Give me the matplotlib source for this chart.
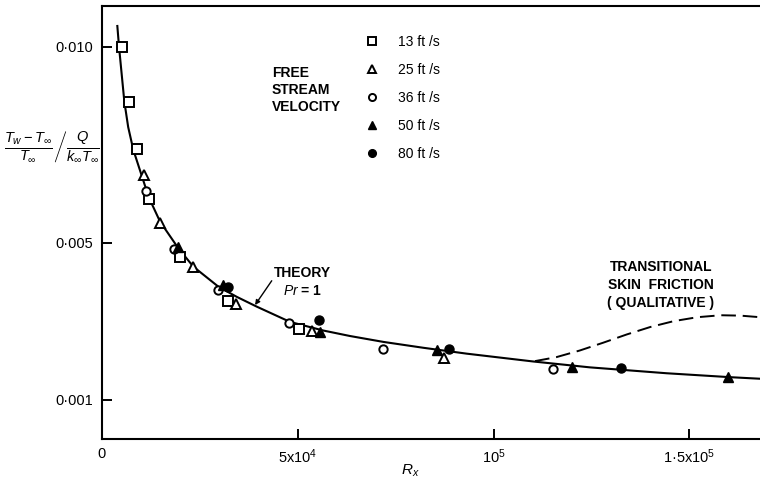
import numpy as np
import matplotlib.pyplot as plt

plt.rcParams['font.family'] = ['Liberation Sans', 'DejaVu Sans']
plt.rcParams['mathtext.fontset'] = 'custom'
plt.rcParams['mathtext.rm'] = 'Liberation Sans'
plt.rcParams['mathtext.it'] = 'Liberation Sans:italic'
plt.rcParams['mathtext.bf'] = 'Liberation Sans:bold'

# measured points, R_x and wall temperature parameter
x13 = [5150, 7020, 8980, 12190, 20030, 32350, 50460]
y13 = [0.01000, 0.00859, 0.00739, 0.00611, 0.00464, 0.00352, 0.00280]

x25 = [10920, 14920, 23270, 34240, 53620, 87370]
y25 = [0.00673, 0.00551, 0.00437, 0.00344, 0.00275, 0.00205]

x36 = [11350, 18570, 29640, 47910, 71890, 115250]
y36 = [0.00632, 0.00484, 0.00379, 0.00294, 0.00228, 0.00177]

x50 = [19590, 31070, 55610, 85510, 119950, 159900]
y50 = [0.00488, 0.00392, 0.00273, 0.00226, 0.00182, 0.00158]

x80 = [32350, 55430, 88720, 132450]
y80 = [0.00386, 0.00303, 0.00228, 0.00180]

# theory curve, Pr = 1 (units of 1e-3)
x_th = [4030, 4460, 5820, 6800, 8110, 11100, 12370, 14920, 19590, 23420,
        29800, 34490, 39590, 48090, 56580, 63390, 71890, 82090, 93160,
        110150, 124620, 144180, 160330, 167990]
y_th = [10.53, 10.00, 8.60, 7.95, 7.37, 6.45, 6.09, 5.54, 4.86, 4.39,
        3.88, 3.62, 3.37, 2.98, 2.76, 2.62, 2.47, 2.32, 2.17,
        1.97, 1.82, 1.67, 1.57, 1.53]

# transitional skin friction, qualitative (units of 1e-3)
x_tr = [110600, 116000, 122000, 128000, 134000, 140000, 146000, 152000,
        158000, 163000, 168000]
y_tr = [1.98, 2.08, 2.25, 2.45, 2.66, 2.85, 3.00, 3.10, 3.15, 3.14, 3.10]

fig = plt.figure(figsize=(7.6, 4.83), dpi=100)
ax = fig.add_axes([0.1336, 0.0917, 0.8664, 0.8959])

ax.plot(x_th, np.array(y_th) * 1e-3, color='k', lw=1.5, zorder=2)
ax.plot(x_tr, np.array(y_tr) * 1e-3, color='k', lw=1.4, dashes=(7.5, 3.5), zorder=2)

ax.plot(x13, y13, 's', ms=7, mfc='white', mec='k', mew=1.4, label='13 ft /s', zorder=3)
ax.plot(x25, y25, '^', ms=7.5, mfc='white', mec='k', mew=1.4, label='25 ft /s', zorder=3)
ax.plot(x36, y36, 'o', ms=6, mfc='white', mec='k', mew=1.4, label='36 ft /s', zorder=3)
ax.plot(x50, y50, '^', ms=7.5, mfc='k', mec='k', mew=1.0, label='50 ft /s', zorder=3)
ax.plot(x80, y80, 'o', ms=6.5, mfc='k', mec='k', mew=1.0, label='80 ft /s', zorder=3)

ax.legend(loc='upper left', bbox_to_anchor=(0.400, 0.9330), frameon=False,
          fontsize=10, handlelength=1.0, handletextpad=1.4, labelspacing=1.0,
          borderpad=0, borderaxespad=0, numpoints=1, markerscale=0.85)

ax.set_xlim(0, 167990)
ax.set_ylim(0, 0.01104)
ax.set_xticks([0, 5e4, 1e5, 1.5e5])
ax.set_xticklabels(['0', r'$\mathrm{5x10^{4}}$', r'$\mathrm{10^{5}}$', r'$\mathrm{1·5x10^{5}}$'])
ax.set_yticks([0.001, 0.005, 0.010])
ax.set_yticklabels(['0·001', '0·005', '0·010'])
ax.tick_params(direction='in', length=7.5, width=1.4, labelsize=10.5)
ax.tick_params(axis='y', pad=6)
ax.tick_params(axis='x', pad=6)

for s in ['left', 'bottom', 'top']:
    ax.spines[s].set_linewidth(1.5)
ax.spines['right'].set_visible(False)

ax.set_ylabel(r'$\left.\frac{T_w - T_\infty}{T_\infty}\right/\frac{Q}{k_\infty T_\infty}$',
              rotation=0, fontsize=15, ha='center', va='center')
ax.yaxis.set_label_coords(-0.0752, 0.674)
ax.set_xlabel(r'$R_x$', fontsize=11)
ax.xaxis.set_label_coords(0.4685, -0.056)

ax.text(0.2585, 0.806, 'FREE\nSTREAM\nVELOCITY', transform=ax.transAxes,
        ha='left', va='center', fontsize=10, fontweight='bold', linespacing=1.25)
ax.text(0.8497, 0.3552, 'TRANSITIONAL\nSKIN  FRICTION\n( QUALITATIVE )',
        transform=ax.transAxes, ha='center', va='center', fontsize=10,
        fontweight='bold', linespacing=1.4, multialignment='center')
ax.text(51300, 4.0e-3, 'THEORY\n$Pr$ = 1', ha='center', va='center',
        fontsize=10, fontweight='bold', linespacing=1.3, multialignment='center')
ax.annotate('', xy=(39160, 3.41e-3), xytext=(43420, 4.03e-3),
            arrowprops=dict(arrowstyle='-|>', lw=1.0, color='k',
                            mutation_scale=7, shrinkA=0, shrinkB=0))

fig.savefig('out.png', dpi=100)
